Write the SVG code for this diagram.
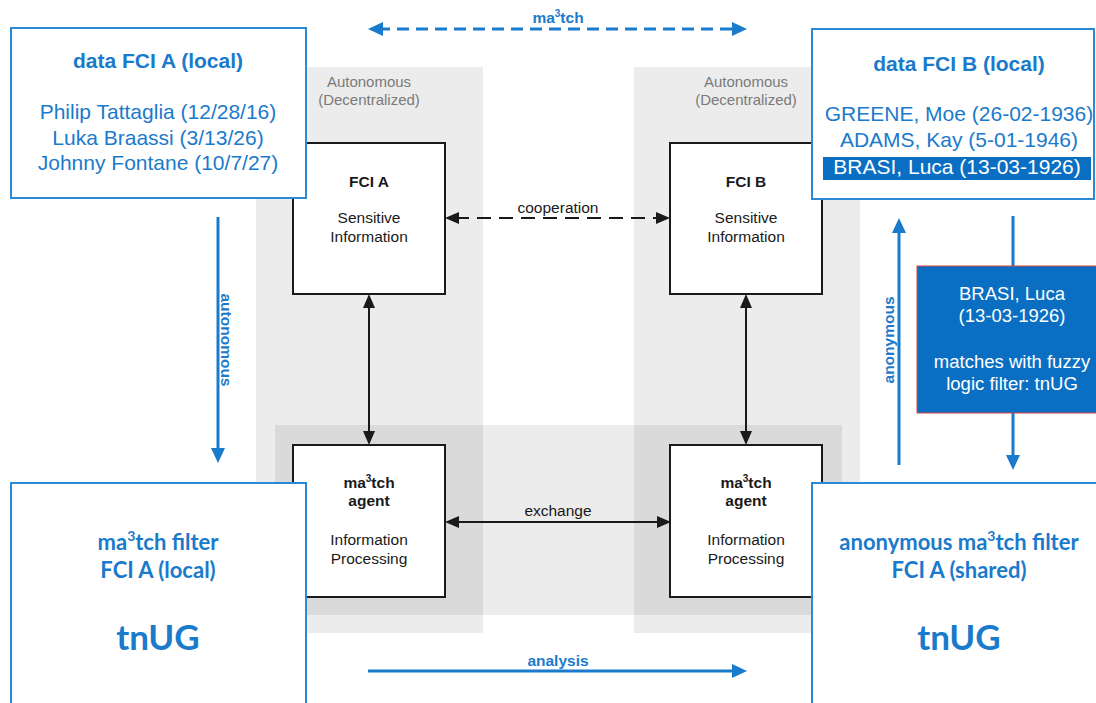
<svg xmlns="http://www.w3.org/2000/svg" width="1096" height="703" viewBox="0 0 1096 703">
<defs>
<style>
.panel{fill:#000;fill-opacity:0.075}
.bbox{fill:#fff;stroke:#1a1a1a;stroke-width:2}
.blbox{fill:#fff;stroke:#2a8ad6;stroke-width:2}
.gt{font-family:"Liberation Sans",Arial,sans-serif;font-size:15px;fill:#7a7a7a;text-anchor:middle}
.kt{font-family:"Liberation Sans",Arial,sans-serif;font-size:15.5px;fill:#1a1a1a;text-anchor:middle}
.kb{font-weight:bold}
.ut{font-family:"Liberation Sans",Arial,sans-serif;font-size:21px;fill:#1a7acb;text-anchor:middle}
.ub{font-weight:bold}
.ul{font-family:"Liberation Sans",Arial,sans-serif;font-size:15.5px;font-weight:bold;fill:#1a7acb;text-anchor:middle}
.ct{font-family:Lato,"Open Sans",sans-serif;font-weight:bold;fill:#1a7acb;text-anchor:middle}
.wt{font-family:"Liberation Sans",Arial,sans-serif;font-size:18.5px;fill:#fff;text-anchor:middle}
.kl{stroke:#1a1a1a;stroke-width:2;fill:none}
.bl{stroke:#1a7acb;stroke-width:3;fill:none}
</style>
<marker id="ka" viewBox="0 0 14 12" refX="4" refY="6" markerWidth="14" markerHeight="12" markerUnits="userSpaceOnUse" orient="auto-start-reverse"><path d="M0,0 L14,6 L0,12 z" fill="#1a1a1a"/></marker>
<marker id="ba" viewBox="0 0 15 14" refX="5" refY="7" markerWidth="15" markerHeight="14" markerUnits="userSpaceOnUse" orient="auto-start-reverse"><path d="M0,0 L15,7 L0,14 z" fill="#1a7acb"/></marker>
</defs>
<rect width="1096" height="703" fill="#fff"/>

<g id="panels">
<rect class="panel" x="256" y="67" width="227" height="566"/>
<rect class="panel" x="634" y="67" width="226" height="566"/>
<rect class="panel" x="275" y="425" width="567" height="190"/>
<text class="gt" x="369" y="87">Autonomous</text>
<text class="gt" x="369" y="105">(Decentralized)</text>
<text class="gt" x="746" y="87">Autonomous</text>
<text class="gt" x="746" y="105">(Decentralized)</text>
</g>

<g id="fciA">
<rect class="bbox" x="293" y="143" width="152" height="151"/>
<text class="kt kb" x="369" y="187">FCI A</text>
<text class="kt" x="369" y="223">Sensitive</text>
<text class="kt" x="369" y="242">Information</text>
</g>
<g id="fciB">
<rect class="bbox" x="670" y="143" width="152" height="151"/>
<text class="kt kb" x="746" y="187">FCI B</text>
<text class="kt" x="746" y="223">Sensitive</text>
<text class="kt" x="746" y="242">Information</text>
</g>
<g id="agentA">
<rect class="bbox" x="293" y="445" width="152" height="152"/>
<text class="kt kb" x="369" y="488">ma<tspan font-size="10" dy="-6">3</tspan><tspan dy="6">tch</tspan></text>
<text class="kt kb" x="369" y="506">agent</text>
<text class="kt" x="369" y="545">Information</text>
<text class="kt" x="369" y="564">Processing</text>
</g>
<g id="agentB">
<rect class="bbox" x="670" y="445" width="152" height="152"/>
<text class="kt kb" x="746" y="488">ma<tspan font-size="10" dy="-6">3</tspan><tspan dy="6">tch</tspan></text>
<text class="kt kb" x="746" y="506">agent</text>
<text class="kt" x="746" y="545">Information</text>
<text class="kt" x="746" y="564">Processing</text>
</g>

<g id="connectors">
<line class="kl" x1="369" y1="304" x2="369" y2="435" marker-start="url(#ka)" marker-end="url(#ka)"/>
<line class="kl" x1="746" y1="304" x2="746" y2="435" marker-start="url(#ka)" marker-end="url(#ka)"/>
<line class="kl" x1="455" y1="218" x2="660" y2="218" stroke-dasharray="14 8" marker-start="url(#ka)" marker-end="url(#ka)"/>
<text class="kt" x="558" y="213">cooperation</text>
<line class="kl" x1="455" y1="522" x2="661" y2="522" marker-start="url(#ka)" marker-end="url(#ka)"/>
<text class="kt" x="558" y="516">exchange</text>
<line class="bl" x1="378" y1="29" x2="737" y2="29" stroke-dasharray="12 7" marker-start="url(#ba)" marker-end="url(#ba)"/>
<text class="ul" x="558" y="23">ma<tspan font-size="10" dy="-6">3</tspan><tspan dy="6">tch</tspan></text>
<line class="bl" x1="368" y1="671" x2="737" y2="671" marker-end="url(#ba)"/>
<text class="ul" x="558" y="666">analysis</text>
<line class="bl" x1="218" y1="217" x2="218" y2="453" marker-end="url(#ba)"/>
<text class="ul" transform="translate(221,340) rotate(90)">autonomous</text>
<line class="bl" x1="899" y1="465" x2="899" y2="228" marker-end="url(#ba)"/>
<text class="ul" transform="translate(894,340) rotate(-90)">anonymous</text>
<line class="bl" x1="1013" y1="216" x2="1013" y2="460" marker-end="url(#ba)"/>
</g>

<g id="dataA">
<rect class="blbox" x="11" y="28" width="295" height="170"/>
<text class="ut ub" x="158" y="68">data FCI A (local)</text>
<text class="ut" x="158" y="119">Philip Tattaglia (12/28/16)</text>
<text class="ut" x="158" y="145">Luka Braassi (3/13/26)</text>
<text class="ut" x="158" y="170">Johnny Fontane (10/7/27)</text>
</g>
<g id="dataB">
<rect class="blbox" x="812" y="29" width="282" height="170"/>
<text class="ut ub" x="959" y="71">data FCI B (local)</text>
<text class="ut" x="959" y="121">GREENE, Moe (26-02-1936)</text>
<text class="ut" x="959" y="147">ADAMS, Kay (5-01-1946)</text>
<rect x="823" y="157" width="268" height="23" fill="#0a6fc2"/>
<text class="ut" x="957" y="174" fill="#fff" style="fill:#fff">BRASI, Luca (13-03-1926)</text>
</g>
<g id="match">
<rect x="917" y="266" width="180" height="147" fill="#0a6fc2" stroke="#e0443c" stroke-width="1"/>
<text class="wt" x="1012" y="300">BRASI, Luca</text>
<text class="wt" x="1012" y="322">(13-03-1926)</text>
<text class="wt" x="1012" y="368">matches with fuzzy</text>
<text class="wt" x="1012" y="390">logic filter: tnUG</text>
</g>
<g id="filterA">
<rect class="blbox" x="11" y="483" width="295" height="230"/>
<text class="ct" x="158" y="550" font-size="22">ma<tspan font-size="14" dy="-9">3</tspan><tspan dy="9">tch filter</tspan></text>
<text class="ct" x="158" y="578" font-size="22">FCI A (local)</text>
<text class="ct" x="158" y="650" font-size="35">tnUG</text>
</g>
<g id="filterB">
<rect class="blbox" x="812" y="483" width="290" height="230"/>
<text class="ct" x="959" y="550" font-size="22">anonymous ma<tspan font-size="14" dy="-9">3</tspan><tspan dy="9">tch filter</tspan></text>
<text class="ct" x="959" y="578" font-size="22">FCI A (shared)</text>
<text class="ct" x="959" y="650" font-size="35">tnUG</text>
</g>
</svg>
